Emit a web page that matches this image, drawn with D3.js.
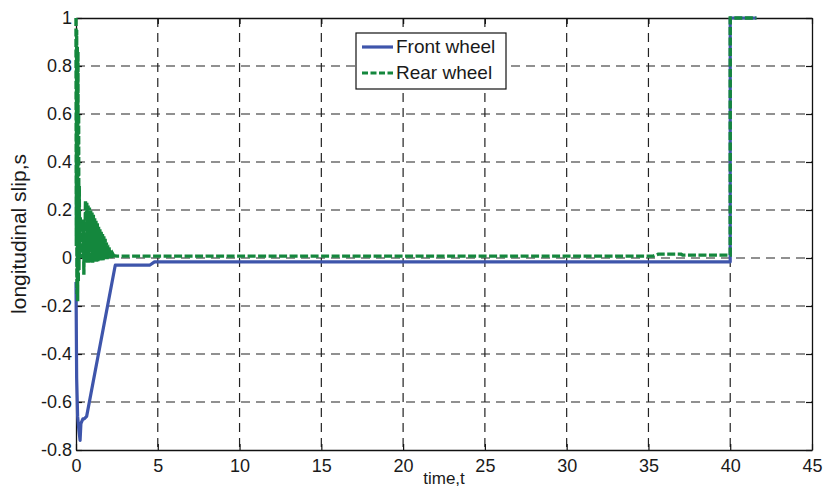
<!DOCTYPE html>
<html>
<head>
<meta charset="utf-8">
<script src="https://cdn.jsdelivr.net/npm/d3@7"></script>
<style>
	body { margin: 0; background: #fff; }
	svg text { font-family: "Liberation Sans", Arial, sans-serif; fill: #1a1a1a; }
</style>
</head>
<body>
<div id="chart"></div>
<script>
// tick values and labels
const xTicks = [0, 5, 10, 15, 20, 25, 30, 35, 40, 45];
const yTicks = [-0.8, -0.6, -0.4, -0.2, 0, 0.2, 0.4, 0.6, 0.8, 1];
const yTickLabels = ['-0.8', '-0.6', '-0.4', '-0.2', '0', '0.2', '0.4', '0.6', '0.8', '1'];

// front wheel slip
const frontT = [0, 0.04, 0.1, 0.18, 0.25, 0.3, 0.42, 0.5, 0.65, 2.4, 4.5, 4.8, 40, 40, 41.6];
const frontS = [-0.1, -0.5, -0.66, -0.72, -0.76, -0.69, -0.67, -0.67, -0.66, -0.03, -0.03, -0.016, -0.016, 1, 1];

// rear wheel slip, fast oscillation at the start
const rearT = [0, 0.02, 0.04, 0.06, 0.08, 0.10, 0.12, 0.14, 0.16, 0.18, 0.20, 0.22, 0.26, 0.30, 0.34, 0.38, 0.42, 0.46, 0.48, 0.50, 0.54,
	0.58, 0.62, 0.66, 0.70, 0.74, 0.78, 0.82, 0.86, 0.90, 0.94, 0.98, 1.02, 1.06, 1.10, 1.14, 1.18, 1.22, 1.26, 1.30, 1.34,
	1.38, 1.42, 1.46, 1.50, 1.54, 1.58, 1.62, 1.66, 1.70, 1.74, 1.78, 1.82, 1.86, 1.90, 1.94, 1.98, 2.02, 2.06, 2.10, 2.14,
	2.18, 2.22, 2.26, 2.30, 2.5, 35.3, 35.6, 37, 37.1, 40, 40, 41.6];
const rearS = [1, 0.05, 0.95, -0.15, 0.88, -0.18, 0.86, -0.1, 0.6, -0.05, 0.3, 0.0, 0.17, 0.02, 0.15, 0.0, 0.12, 0.16, -0.07, 0.10, 0.0,
	0.24, -0.02, 0.23, -0.02, 0.22, -0.02, 0.21, -0.02, 0.20, -0.02, 0.19, -0.02, 0.18, -0.015, 0.165, -0.015, 0.155, -0.015, 0.145, -0.015,
	0.13, -0.01, 0.12, -0.01, 0.11, -0.01, 0.10, -0.01, 0.09, -0.005, 0.08, -0.005, 0.065, -0.005, 0.055, 0.0, 0.045, 0.0, 0.035, 0.0,
	0.025, 0.0, 0.015, 0.01, 0.008, 0.008, 0.016, 0.016, 0.012, 0.012, 1, 1];

const seriesNames = ['Front wheel', 'Rear wheel'];
const seriesColors = ['#3e55ab', '#14873d'];

const W = 825, H = 490;
const m = { left: 76, right: 13, top: 18, bottom: 40 };

const svg = d3.select('#chart').append('svg')
	.attr('width', W)
	.attr('height', H);

const x = d3.scaleLinear().domain([0, 45]).range([m.left, W - m.right]);
const y = d3.scaleLinear().domain([-0.8, 1]).range([H - m.bottom, m.top]);

// grid
const grid = svg.append('g')
	.attr('stroke', '#222')
	.attr('stroke-width', 1.2)
	.attr('stroke-dasharray', '9,6');
grid.selectAll('.gx')
	.data(xTicks.slice(1, -1))
	.enter().append('line')
	.attr('x1', d => x(d)).attr('x2', d => x(d))
	.attr('y1', y(1)).attr('y2', y(-0.8));
grid.selectAll('.gy')
	.data(yTicks.slice(1, -1))
	.enter().append('line')
	.attr('x1', x(0)).attr('x2', x(45))
	.attr('y1', d => y(d)).attr('y2', d => y(d));

// axes (ticks pointing inwards like matlab)
const tickFont = 18;
const xAxis = svg.append('g')
	.attr('transform', `translate(0,${y(-0.8)})`)
	.call(d3.axisBottom(x).tickValues(xTicks).tickSizeInner(-6).tickSizeOuter(0).tickPadding(9).tickFormat(d3.format('d')));
const yAxis = svg.append('g')
	.attr('transform', `translate(${x(0)},0)`)
	.call(d3.axisLeft(y).tickValues(yTicks).tickSizeInner(-6).tickSizeOuter(0).tickPadding(4)
		.tickFormat((d, i) => yTickLabels[i]));
svg.append('g')
	.attr('transform', `translate(0,${y(1)})`)
	.call(d3.axisTop(x).tickValues(xTicks).tickSizeInner(-6).tickSizeOuter(0).tickFormat(''));
svg.append('g')
	.attr('transform', `translate(${x(45)},0)`)
	.call(d3.axisRight(y).tickValues(yTicks).tickSizeInner(-6).tickSizeOuter(0).tickFormat(''));
svg.selectAll('.domain').attr('stroke', '#111').attr('stroke-width', 1.3);
svg.selectAll('.tick line').attr('stroke', '#111').attr('stroke-width', 1.2);
svg.selectAll('.tick text').attr('font-size', tickFont).attr('font-family', '"Liberation Sans", Arial, sans-serif').attr('fill', '#1a1a1a');

// lines
const line = d3.line().x(d => x(d[0])).y(d => y(d[1]));
const front = frontT.map((t, i) => [t, frontS[i]]);
const rear = rearT.map((t, i) => [t, rearS[i]]);

svg.append('path')
	.datum(front)
	.attr('d', line)
	.attr('fill', 'none')
	.attr('stroke', seriesColors[0])
	.attr('stroke-width', 3.2)
	.attr('stroke-linejoin', 'round');
svg.append('path')
	.datum(rear)
	.attr('d', line)
	.attr('fill', 'none')
	.attr('stroke', seriesColors[1])
	.attr('stroke-width', 3.4)
	.attr('stroke-dasharray', '8,2.5');

// legend
const lg = svg.append('g').attr('transform', 'translate(356,33)');
lg.append('rect')
	.attr('width', 150).attr('height', 56)
	.attr('fill', '#fff').attr('stroke', '#111').attr('stroke-width', 1.2);
seriesNames.forEach((name, i) => {
	lg.append('line')
		.attr('x1', 6).attr('x2', 37)
		.attr('y1', 14 + i * 26).attr('y2', 14 + i * 26)
		.attr('stroke', seriesColors[i]).attr('stroke-width', 3.2)
		.attr('stroke-dasharray', i == 1 ? '6,2.5' : null);
	lg.append('text')
		.attr('x', 40).attr('y', 20 + i * 26)
		.attr('font-size', 19)
		.text(name);
});

// axis labels
svg.append('text')
	.attr('x', x(22.5)).attr('y', 484)
	.attr('text-anchor', 'middle')
	.attr('font-size', 17)
	.text('time,t');
svg.append('text')
	.attr('transform', `translate(26,${y(0.1)}) rotate(-90)`)
	.attr('text-anchor', 'middle')
	.attr('font-size', 21)
	.text('longitudinal slip,s');
</script>
</body>
</html>
